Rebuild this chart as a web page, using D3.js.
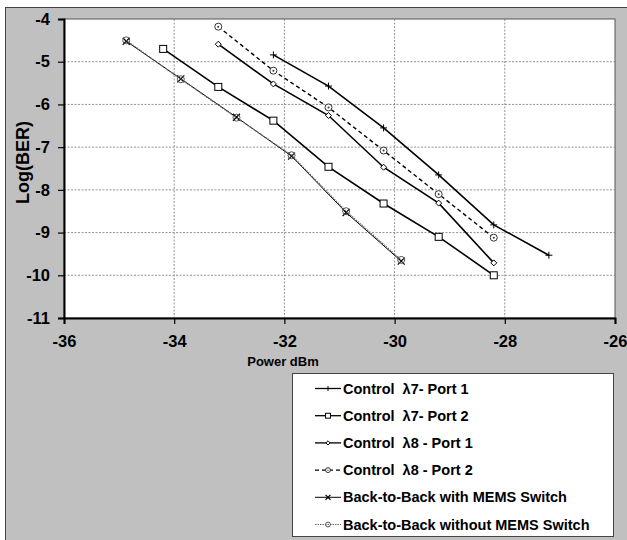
<!DOCTYPE html>
<html lang="en">
<head>
    <meta charset="UTF-8">
    <script src="https://cdn.jsdelivr.net/npm/d3@7"></script>
    <title>Log(BER) vs Power</title>
    <style>
        body { margin: 0; background: #fff; }
        text { font-family: "Liberation Sans", Arial, sans-serif; font-weight: bold; }
    </style>
</head>
<body>
    <svg></svg>
    <script>
        // series data (x = power dBm, y = log(BER))
        const seriesNames = [
            'Control  \u03bb7- Port 1',
            'Control  \u03bb7- Port 2',
            'Control  \u03bb8 - Port 1',
            'Control  \u03bb8 - Port 2',
            'Back-to-Back with MEMS Switch',
            'Back-to-Back without MEMS Switch'
        ];
        const l7p1X = [-32.2, -31.2, -30.2, -29.2, -28.2, -27.2];
        const l7p1Y = [-4.84, -5.57, -6.55, -7.65, -8.82, -9.53];
        const l7p2X = [-34.2, -33.2, -32.2, -31.2, -30.2, -29.2, -28.2];
        const l7p2Y = [-4.70, -5.59, -6.38, -7.46, -8.32, -9.10, -10.0];
        const l8p1X = [-33.2, -32.2, -31.2, -30.2, -29.2, -28.2];
        const l8p1Y = [-4.59, -5.52, -6.26, -7.47, -8.31, -9.71];
        const l8p2X = [-33.2, -32.2, -31.2, -30.2, -29.2, -28.2];
        const l8p2Y = [-4.18, -5.21, -6.07, -7.08, -8.10, -9.12];
        const memsX = [-34.87, -33.88, -32.87, -31.87, -30.88, -29.88];
        const memsY = [-4.52, -5.40, -6.30, -7.21, -8.53, -9.67];
        const noMemsX = [-34.87, -33.88, -32.87, -31.87, -30.88, -29.88];
        const noMemsY = [-4.50, -5.41, -6.31, -7.19, -8.50, -9.64];

        const xTicks = [-36, -34, -32, -30, -28, -26];
        const yTicks = [-4, -5, -6, -7, -8, -9, -10, -11];

        const W = 627, H = 540;
        const mLeft = 64, mRight = 615, mTop = 19, mBottom = 318;

        let svg = d3.select('svg')
            .attr('width', W)
            .attr('height', H);

        // outer gray frame
        svg.append('rect')
            .attr('x', 5.5).attr('y', 7.5)
            .attr('width', 624).attr('height', 536)
            .attr('fill', '#c0c0c0')
            .attr('stroke', '#444');

        const x = d3.scaleLinear().domain([-36, -26]).range([mLeft, mRight]);
        const y = d3.scaleLinear().domain([-11, -4]).range([mBottom, mTop]);

        // plot area
        svg.append('rect')
            .attr('x', mLeft).attr('y', mTop)
            .attr('width', mRight - mLeft).attr('height', mBottom - mTop)
            .attr('fill', '#fff')
            .attr('stroke', '#555').attr('stroke-width', 1);

        // grid
        let grid = svg.append('g').attr('stroke', '#777').attr('stroke-width', 0.8).attr('stroke-dasharray', '2,1.5');
        grid.selectAll('.gx')
            .data(xTicks.slice(1, -1))
            .enter()
            .append('line')
            .attr('x1', d => x(d)).attr('x2', d => x(d))
            .attr('y1', mTop).attr('y2', mBottom);
        grid.selectAll('.gy')
            .data(yTicks.slice(1, -1))
            .enter()
            .append('line')
            .attr('x1', mLeft).attr('x2', mRight)
            .attr('y1', d => y(d)).attr('y2', d => y(d));

        // axes
        let yAxis = svg.append('g')
            .attr('transform', `translate(${mLeft},0)`)
            .call(d3.axisLeft(y).tickValues(yTicks).tickSize(6).tickPadding(8).tickFormat(d => String(d)));
        let xAxis = svg.append('g')
            .attr('transform', `translate(0,${mBottom})`)
            .call(d3.axisBottom(x).tickValues(xTicks).tickSize(6).tickPadding(11).tickFormat(d => String(d)));
        [xAxis, yAxis].forEach(a => {
            a.attr('font-size', null).attr('font-family', null);
            a.select('.domain').attr('stroke', '#000').attr('stroke-width', 2);
            a.selectAll('.tick line').attr('stroke', '#000').attr('stroke-width', 1.2);
            a.selectAll('text').attr('fill', '#000')
                .style('font-size', '16.5px')
                .style('font-family', '"Liberation Sans", Arial, sans-serif').style('font-weight', 'bold');
        });

        svg.append('text')
            .attr('x', 283).attr('y', 366)
            .attr('text-anchor', 'middle')
            .style('font-size', '13px')
            .text('Power dBm');
        svg.append('text')
            .attr('transform', `translate(29,162.5) rotate(-90)`)
            .attr('text-anchor', 'middle')
            .style('font-size', '18px')
            .text('Log(BER)');

        // marker drawing
        function marker(g, type, cx, cy, k) {
            const s = 3.5 * k;
            if (type === 'plus') {
                g.append('path').attr('d', `M${cx - s},${cy}H${cx + s}M${cx},${cy - s}V${cy + s}`)
                    .attr('stroke', '#000').attr('stroke-width', 1);
            } else if (type === 'square') {
                g.append('rect').attr('x', cx - s).attr('y', cy - s).attr('width', 2 * s).attr('height', 2 * s)
                    .attr('fill', '#fff').attr('stroke', '#000').attr('stroke-width', 1);
            } else if (type === 'diamond') {
                const d = 3 * k;
                g.append('path').attr('d', `M${cx},${cy - d}L${cx + d},${cy}L${cx},${cy + d}L${cx - d},${cy}Z`)
                    .attr('fill', '#fff').attr('stroke', '#000').attr('stroke-width', 1);
            } else if (type === 'circdot') {
                g.append('circle').attr('cx', cx).attr('cy', cy).attr('r', s)
                    .attr('fill', '#fff').attr('stroke', '#333').attr('stroke-width', 1);
                g.append('circle').attr('cx', cx).attr('cy', cy).attr('r', 1 * k).attr('fill', '#333');
            } else if (type === 'cross') {
                g.append('path').attr('d', `M${cx - s},${cy - s}L${cx + s},${cy + s}M${cx - s},${cy + s}L${cx + s},${cy - s}`)
                    .attr('stroke', '#000').attr('stroke-width', 1.2);
            } else if (type === 'circle') {
                g.append('circle').attr('cx', cx).attr('cy', cy).attr('r', s)
                    .attr('fill', 'none').attr('stroke', '#555').attr('stroke-width', 1);
            }
        }

        const series = [
            { xs: l7p1X, ys: l7p1Y, mark: 'plus', stroke: '#000', width: 1.6, dash: null },
            { xs: l7p2X, ys: l7p2Y, mark: 'square', stroke: '#000', width: 1.6, dash: null },
            { xs: l8p1X, ys: l8p1Y, mark: 'diamond', stroke: '#000', width: 1.6, dash: null },
            { xs: l8p2X, ys: l8p2Y, mark: 'circdot', stroke: '#000', width: 1.4, dash: '4,3' },
            { xs: memsX, ys: memsY, mark: 'cross', stroke: '#000', width: 1, dash: null },
            { xs: noMemsX, ys: noMemsY, mark: 'circle', stroke: '#666', width: 1.2, dash: '1.5,1' }
        ];

        const line = d3.line().x(d => x(d[0])).y(d => y(d[1]));

        let plot = svg.append('g');
        series.forEach(s => {
            const pts = s.xs.map((v, i) => [v, s.ys[i]]);
            plot.append('path')
                .attr('d', line(pts))
                .attr('fill', 'none')
                .attr('stroke', s.stroke)
                .attr('stroke-width', s.width)
                .attr('stroke-dasharray', s.dash);
            let mg = plot.append('g');
            pts.forEach(p => marker(mg, s.mark, x(p[0]), y(p[1]), 1));
        });

        // legend
        const lg = svg.append('g');
        lg.append('rect')
            .attr('x', 292.5).attr('y', 373.5)
            .attr('width', 321).attr('height', 163)
            .attr('fill', '#fff').attr('stroke', '#444');
        series.forEach((s, i) => {
            const cy = 388.5 + i * 27.2;
            lg.append('line')
                .attr('x1', 315).attr('x2', 341)
                .attr('y1', cy).attr('y2', cy)
                .attr('stroke', s.stroke).attr('stroke-width', Math.min(s.width, 1.3))
                .attr('stroke-dasharray', s.dash);
            marker(lg, s.mark, 328, cy, 0.7);
            lg.append('text')
                .attr('x', 343).attr('y', cy + 5)
                .style('font-size', '14.5px')
                .style('white-space', 'pre')
                .text(seriesNames[i]);
        });
    </script>
</body>
</html>
